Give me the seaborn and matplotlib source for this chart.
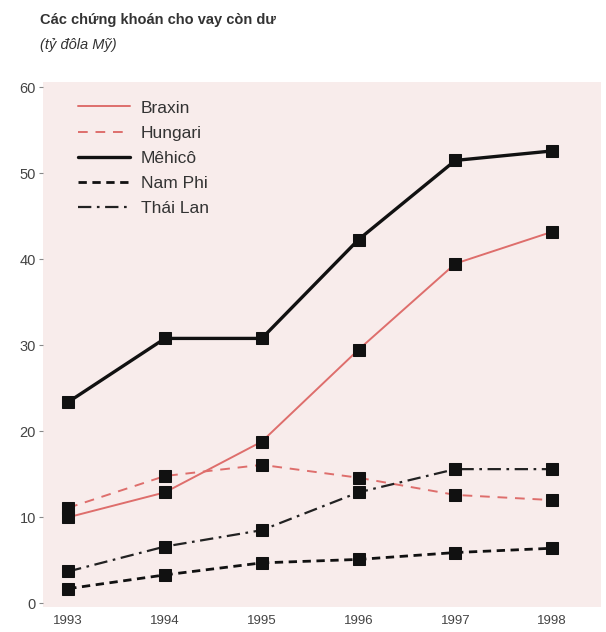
import numpy as np
import pandas as pd
import seaborn as sns
import matplotlib.pyplot as plt
from matplotlib.lines import Line2D

years = [1993, 1994, 1995, 1996, 1997, 1998]
braxin = [10.0, 12.9, 18.8, 29.5, 39.5, 43.2]
hungari = [11.1, 14.8, 16.1, 14.6, 12.6, 12.0]
mehico = [23.4, 30.8, 30.8, 42.3, 51.5, 52.6]
nam_phi = [1.7, 3.3, 4.7, 5.1, 5.9, 6.4]
thai_lan = [3.7, 6.6, 8.5, 12.9, 15.6, 15.6]

names = ["Braxin", "Hungari", "Mêhicô", "Nam Phi", "Thái Lan"]
series = [braxin, hungari, mehico, nam_phi, thai_lan]

red = "#de6e6c"
styles = {
    "Braxin": dict(color=red, ls="-", lw=1.4),
    "Hungari": dict(color=red, ls=(0, (5, 4)), lw=1.4),
    "Mêhicô": dict(color="#111111", ls="-", lw=2.4),
    "Nam Phi": dict(color="#111111", ls=(0, (3, 2)), lw=2.0),
    "Thái Lan": dict(color="#222222", ls=(0, (6, 2.5, 1.2, 2.5)), lw=1.6),
}

df = pd.DataFrame({"year": years * len(names),
                   "value": sum(series, []),
                   "country": np.repeat(names, len(years))})

sns.set_style("white")
plt.rcParams['font.family'] = ['Liberation Sans', 'DejaVu Sans']

fig = plt.figure(figsize=(6.06, 6.32), dpi=100)
ax = fig.add_axes([0.071, 0.040, 0.92, 0.830])
ax.set_facecolor("#f8eceb")

for name in names:
    st = styles[name]
    sns.lineplot(data=df[df.country == name], x="year", y="value", ax=ax,
                 color=st["color"], linestyle=st["ls"], linewidth=st["lw"],
                 marker="s", markersize=9, markerfacecolor="#111111",
                 markeredgecolor="#111111", legend=False, errorbar=None)

ax.set_xlim(1992.74, 1998.5)
ax.set_ylim(-0.4, 60.6)
ax.set_xticks(years)
ax.set_yticks([0, 10, 20, 30, 40, 50, 60])
ax.tick_params(axis="y", length=3, color="#888888", labelsize=10.5, labelcolor="#444444", pad=2, direction="out", left=True)
ax.tick_params(axis="x", length=0, labelsize=9.5, labelcolor="#444444", pad=6)
ax.set_xlabel("")
ax.set_ylabel("")
for s in ax.spines.values():
    s.set_visible(False)

handles = [Line2D([0], [0], color=styles[n]["color"], linestyle=styles[n]["ls"],
                  linewidth=styles[n]["lw"]) for n in names]
ax.legend(handles, names, loc="upper left", bbox_to_anchor=(0.035, 0.995), frameon=False,
          fontsize=12.5, handlelength=3.0, handletextpad=0.6, labelspacing=0.58,
          labelcolor="#333333")

fig.text(0.066, 0.962, "Các chứng khoán cho vay còn dư", fontsize=10.5, fontweight="bold", color="#333333")
fig.text(0.066, 0.922, "(tỷ đôla Mỹ)", fontsize=10.5, style="italic", color="#333333")

fig.savefig("out.png", dpi=100, facecolor="white")
